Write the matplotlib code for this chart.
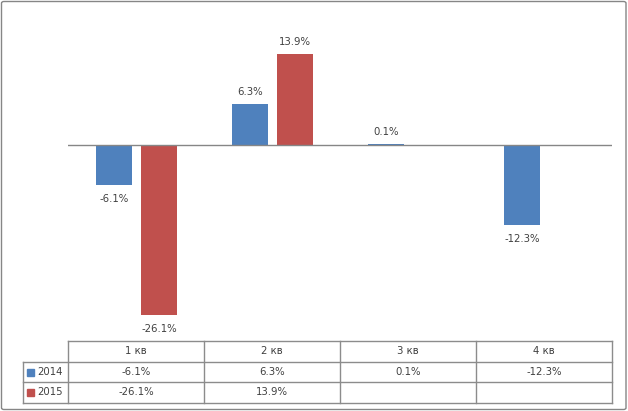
import matplotlib.pyplot as plt
from matplotlib.patches import FancyBboxPatch, Rectangle
import numpy as np

# data
quarters = ["1 кв", "2 кв", "3 кв", "4 кв"]
series_names = ["2014", "2015"]
values_2014 = [-6.1, 6.3, 0.1, -12.3]
values_2015 = [-26.1, 13.9, None, None]
colors = ["#4F81BD", "#C0504D"]

W, H = 628, 411
fig = plt.figure(figsize=(W / 100, H / 100), dpi=100)

def fx(px):
    return px / W

def fy(py):
    return 1 - py / H

# plot area in pixels
left, right, top, bottom = 68, 612, 14, 341
ax = fig.add_axes([fx(left), fy(bottom), fx(right - left), (bottom - top) / H])
ax.set_xlim(-0.5, len(quarters) - 0.5)
ax.set_ylim(-30, 20)
ax.axis("off")
ax.axhline(0, color="#868686", lw=1)

x = np.arange(len(quarters))
offsets = [-0.162, 0.169]
width = 0.265
text_color = "#404040"
fs = 7.3
for vals, off, col in zip([values_2014, values_2015], offsets, colors):
    for xi, v in zip(x, vals):
        if v is None:
            continue
        ax.bar(xi + off, v, width=width, color=col)
        ax.annotate(f"{v:.1f}%", (xi + off, v), xytext=(0, 12 if v >= 0 else -14),
                    textcoords="offset pixels",
                    ha="center", va="center", fontsize=fs, color=text_color)

# data table below the chart
row_h = 20.5
col_w = (right - left) / len(quarters)
line_kw = dict(color="#8C8C8C", lw=1, transform=fig.transFigure)
tleft = 23
ys = [bottom + i * row_h for i in range(4)]
# horizontal lines
fig.add_artist(plt.Line2D([fx(left), fx(right)], [fy(ys[0])] * 2, **line_kw))
for yy in ys[1:]:
    fig.add_artist(plt.Line2D([fx(tleft), fx(right)], [fy(yy)] * 2, **line_kw))
# vertical lines
fig.add_artist(plt.Line2D([fx(tleft)] * 2, [fy(ys[1]), fy(ys[3])], **line_kw))
for i in range(len(quarters) + 1):
    xx = left + i * col_w
    fig.add_artist(plt.Line2D([fx(xx)] * 2, [fy(ys[0]), fy(ys[3])], **line_kw))

for i, q in enumerate(quarters):
    fig.text(fx(left + (i + 0.5) * col_w), fy(ys[0] + row_h / 2), q,
             ha="center", va="center", fontsize=fs, color=text_color)
for r, (name, vals, col) in enumerate(zip(series_names, [values_2014, values_2015], colors)):
    yc = ys[r + 1] + row_h / 2
    fig.add_artist(Rectangle((fx(27), fy(yc + 4)), fx(7), 7 / H, color=col,
                             transform=fig.transFigure))
    fig.text(fx(37), fy(yc), name, ha="left", va="center", fontsize=fs, color=text_color)
    for i, v in enumerate(vals):
        if v is None:
            continue
        fig.text(fx(left + (i + 0.5) * col_w), fy(yc), f"{v:.1f}%",
                 ha="center", va="center", fontsize=fs, color=text_color)

# outer border
fig.add_artist(FancyBboxPatch((fx(1.5), fy(409.5)), fx(624.5), 408 / H,
                              boxstyle="round,pad=0,rounding_size=0.004",
                              transform=fig.transFigure, fill=False,
                              edgecolor="#868686", lw=1))

fig.savefig("out.png", dpi=100)
